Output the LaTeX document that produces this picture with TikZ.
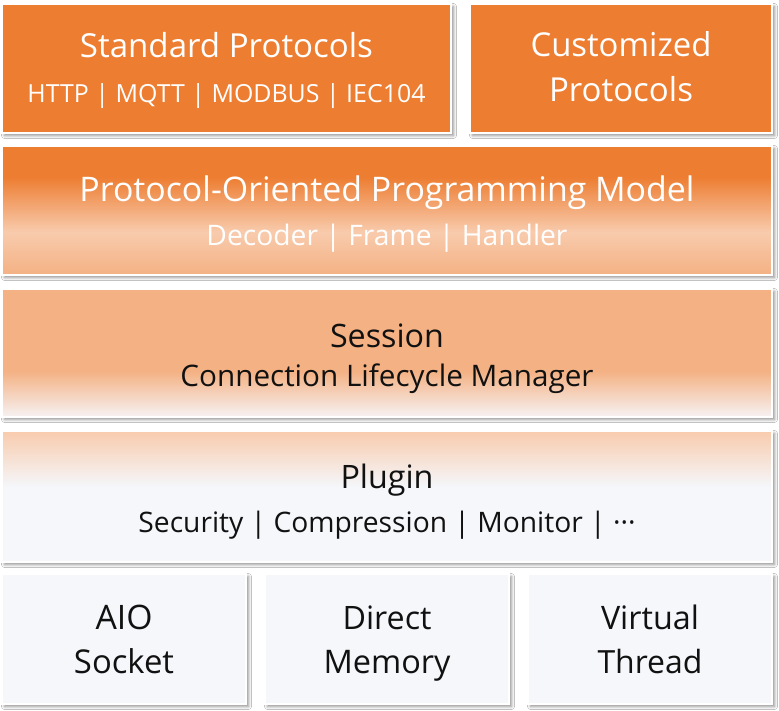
\documentclass[tikz,border=0pt]{standalone}
\usepackage{fontspec}
\setmainfont{Open Sans}
\usepackage{graphicx}
\usetikzlibrary{shadows.blur}
\definecolor{org}{HTML}{ED7D31}
\definecolor{pch}{HTML}{F4B183}
\definecolor{pale}{HTML}{F8CBAD}
\definecolor{lite}{HTML}{F5F7FB}
\definecolor{wht2}{HTML}{F6F2F3}
\definecolor{ink}{HTML}{111111}
\pgfdeclareverticalshading{shA}{100bp}{color(0bp)=(pch); color(25bp)=(pch); color(41.7bp)=(pale); color(63bp)=(org); color(100bp)=(org)}
\pgfdeclareverticalshading{shB}{100bp}{color(0bp)=(wht2); color(25bp)=(wht2); color(43bp)=(pch); color(100bp)=(pch)}
\pgfdeclareverticalshading{shC}{100bp}{color(0bp)=(lite); color(53.6bp)=(lite); color(75bp)=(pale); color(100bp)=(pale)}
\newcommand\fitw[2]{\resizebox{#1pt}{!}{#2}}
\begin{document}
\begin{tikzpicture}[x=1pt,y=-1pt,
  layer/.style={rectangle, draw=white, line width=2pt, inner sep=0pt,
    blur shadow={shadow xshift=2.5pt, shadow yshift=-2.5pt, shadow blur radius=3pt, shadow opacity=45}},
  wtxt/.style={text=white, inner sep=0pt, anchor=base, font=\fontsize{30}{36}\selectfont},
  btxt/.style={text=ink, inner sep=0pt, anchor=base, font=\fontsize{30}{36}\selectfont}]
\fill[white] (0,0) rectangle (779,711);
\useasboundingbox (0,0) rectangle (779,711);
% boxes
\node[layer, fill=org, minimum width=449pt, minimum height=129pt] (b1) at (226.5,68.5) {};
\node[layer, fill=org, minimum width=302pt, minimum height=129pt] (b2) at (621,68.5) {};
\node[layer, shading=shA, minimum width=770pt, minimum height=129pt] (b3) at (387,210.5) {};
\node[layer, shading=shB, minimum width=770pt, minimum height=128pt] (b4) at (387,353) {};
\node[layer, shading=shC, minimum width=770pt, minimum height=131pt] (b5) at (387,496.5) {};
\node[layer, fill=lite, minimum width=244pt, minimum height=130pt] (b6) at (124,639) {};
\node[layer, fill=lite, minimum width=244pt, minimum height=130pt] (b7) at (387,639) {};
\node[layer, fill=lite, minimum width=244pt, minimum height=130pt] (b8) at (650,639) {};
% texts
\node[wtxt] (t1) at (226.5,58) {\fitw{293}{Standard Protocols}};
\node[wtxt] (t2) at (226.5,103) {\fitw{398}{HTTP | MQTT | MODBUS | IEC104}};
\node[wtxt] (t3) at (621,57) {\fitw{181}{Customized}};
\node[wtxt] (t4) at (621,102) {\fitw{144}{Protocols}};
\node[wtxt] (t5) at (387,202) {\fitw{615}{Protocol-Oriented Programming Model}};
\node[wtxt] (t6) at (387,246) {\fitw{361}{Decoder | Frame | Handler}};
\node[btxt] (t7) at (387,347) {\fitw{114}{Session}};
\node[btxt] (t8) at (387,386) {\fitw{413}{Connection Lifecycle Manager}};
\node[btxt] (t9) at (387,488) {\fitw{93}{Plugin}};
\node[btxt] (t10) at (387,532) {\fitw{497}{Security | Compression | Monitor | ···}};
\node[btxt] (t11) at (124,629) {\fitw{57}{AIO}};
\node[btxt] (t12) at (124,673) {\fitw{100}{Socket}};
\node[btxt] (t13) at (387,629) {\fitw{89}{Direct}};
\node[btxt] (t14) at (387,673) {\fitw{127}{Memory}};
\node[btxt] (t15) at (650,629) {\fitw{98}{Virtual}};
\node[btxt] (t16) at (650,673) {\fitw{105}{Thread}};
\end{tikzpicture}
\end{document}
